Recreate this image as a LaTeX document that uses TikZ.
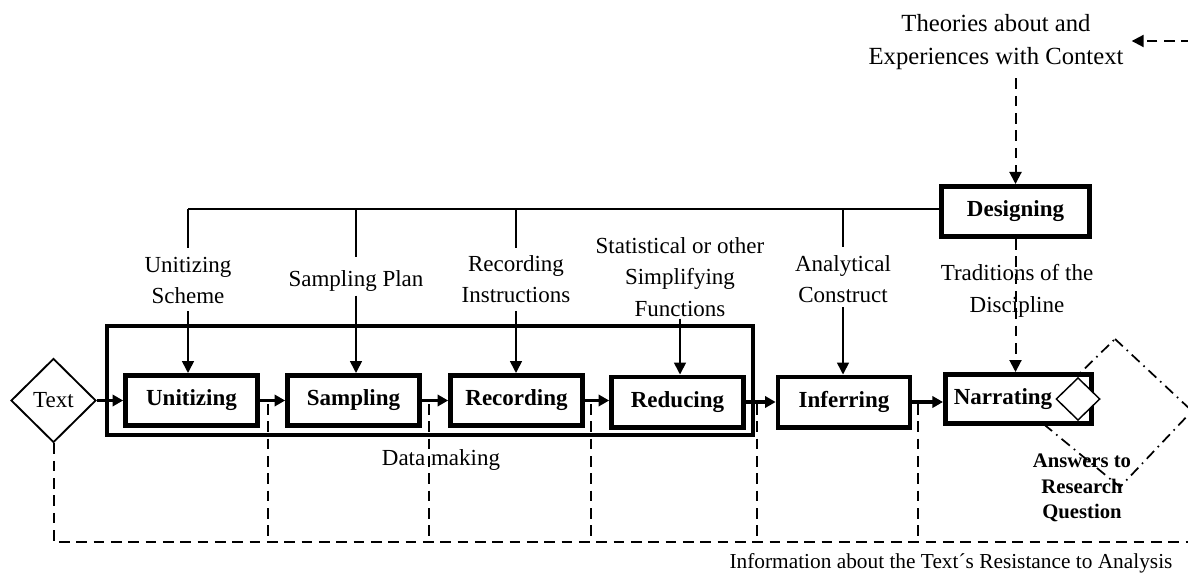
\documentclass[tikz,border=0pt]{standalone}
\usepackage{fontspec}
\setmainfont{Liberation Serif}
\usetikzlibrary{arrows.meta,shapes.geometric,calc}
\begin{document}
\begin{tikzpicture}[x=0.75pt,y=-0.75pt,
  procbox/.style={draw,line width=3.4pt,fill=white,minimum width=99.1pt,minimum height=37.85pt,inner sep=0pt,font=\fontsize{17.25}{20}\selectfont\bfseries},
  lbl/.style={align=center,inner sep=0pt,font=\fontsize{17.25}{23.5}\selectfont},
  thinln/.style={line width=1.25pt},
  flowarrow/.style={line width=2.4pt,-{Triangle[length=8pt,width=8.5pt]}},
  varrow/.style={line width=1.25pt,-{Triangle[length=9pt,width=9pt]}},
  dsh/.style={line width=1.5pt,dash pattern=on 8pt off 5pt},
  dsharrow/.style={dsh,-{Triangle[length=9pt,width=9pt]}},
]
\useasboundingbox (0,0) rectangle (1188,574);

% large dash-dot diamond (partly hidden)
\coordinate (dT) at (1115,339);
\coordinate (dL) at (1035,417);
\coordinate (dB) at (1120,487);
\coordinate (dR) at (1192,411);
\draw[line width=1.3pt,dash pattern=on 8pt off 4pt on 1.2pt off 4pt] (dT) -- (dR) -- (dB) -- (dL) -- cycle;

% data making frame
\node[draw,line width=3.2pt,minimum width=484.3pt,minimum height=81.55pt,inner sep=0pt] (dm) at (430,380.5) {};

% Text diamond
\node[diamond,draw,line width=1.4pt,minimum width=63.75pt,minimum height=63pt,inner sep=0pt,font=\fontsize{17.25}{20}\selectfont] (text) at (53.5,400.5) {Text};

% process boxes
\node[procbox] (unit) at (191.5,400.5) {Unitizing};
\node[procbox] (samp) at (353.5,400.5) {Sampling};
\node[procbox] (reco) at (516.5,400.5) {Recording};
\node[procbox] (redu) at (677.5,402) {Reducing};
\node[procbox] (infe) at (844,402) {Inferring};
\node[procbox,minimum width=109.85pt,minimum height=37.1pt] (narr) at (1018.5,399) {};
\node[inner sep=0pt,font=\fontsize{17.25}{20}\selectfont\bfseries] (narrtxt) at (1003,399) {Narrating};
\node[diamond,draw,fill=white,line width=1.1pt,minimum width=33pt,minimum height=32pt,inner sep=0pt] (ansd) at (1078,399) {};
\node[procbox,minimum width=111.35pt] (desg) at (1015.5,211.5) {Designing};

% main flow
\draw[flowarrow] (text.east) -- (text.east -| unit.west);
\draw[flowarrow] (unit.east) -- (samp.west);
\draw[flowarrow] (samp.east) -- (reco.west);
\draw[flowarrow] (reco.east) -- (reco.east -| redu.west);
\draw[flowarrow] (redu.east) -- (infe.west);
\draw[flowarrow] (infe.east) -- (infe.east -| narr.west);

% labels
\node[lbl] (lu) at (188,280.5) {Unitizing\\Scheme};
\node[lbl] (ls) at (356,281) {Sampling Plan};
\node[lbl] (lr) at (516,279) {Recording\\Instructions};
\node[lbl] (lf) at (680,277) {Statistical or other\\Simplifying\\Functions};
\node[lbl] (la) at (843,279) {Analytical\\Construct};
\node[lbl] (data) at (441,460) {Data making};
\node[lbl,font=\fontsize{18.5}{24.75}\selectfont] (theo) at (996,42.5) {Theories about and\\Experiences with Context};
\node[lbl,font=\fontsize{16}{20}\selectfont] (info) at (951,563) {Information about the Text\char"00B4 s Resistance to Analysis};

% design tree
\coordinate (tl) at (188,209);
\draw[thinln] (tl) -- (tl -| desg.west);
\draw[thinln] (tl -| lu.north) -- ([yshift=6.75pt]lu.north);
\draw[varrow] ([yshift=-5.25pt]lu.south) -- (lu.south |- unit.north);
\draw[thinln] (tl -| ls.north) -- ([yshift=9.75pt]ls.north);
\draw[varrow] ([yshift=-3pt]ls.south) -- (ls.south |- samp.north);
\draw[thinln] (tl -| lr.north) -- ([yshift=5.25pt]lr.north);
\draw[varrow] ([yshift=-6pt]lr.south) -- (lr.south |- reco.north);
\draw[varrow] ([yshift=-1.5pt]lf.south) -- (lf.south |- redu.north);
\draw[thinln] (tl -| la.north) -- ([yshift=6pt]la.north);
\draw[varrow] ([yshift=-3pt]la.south) -- (la.south |- infe.north);

% context arrows
\coordinate (rt) at (1192,41);
\draw[dsharrow] (rt) -- ([xshift=6pt]rt -| theo.east);
\draw[dsharrow] ([yshift=-6pt]theo.south -| desg.north) -- (desg.north);
\draw[dsharrow] (desg.south) -- (desg.south |- narr.north);
\node[lbl] (lt) at (1017,291) {Traditions of the\\Discipline};

% feedback lines
\coordinate (br) at (1192,542);
\draw[dsh] (text.south) |- (br);
\coordinate (f1) at (268,404);
\coordinate (f2) at (429,404);
\coordinate (f3) at (591,404);
\coordinate (f4) at (757,404);
\coordinate (f5) at (918,404);
\foreach \f in {f1,f2,f3,f4,f5} {\draw[dsh] (\f) -- (\f |- br);}

% answers
\node[lbl,font=\fontsize{15.5}{19}\selectfont\bfseries] (answ) at (1082,488) {Answers to\\Research\\Question};
\end{tikzpicture}
\end{document}
